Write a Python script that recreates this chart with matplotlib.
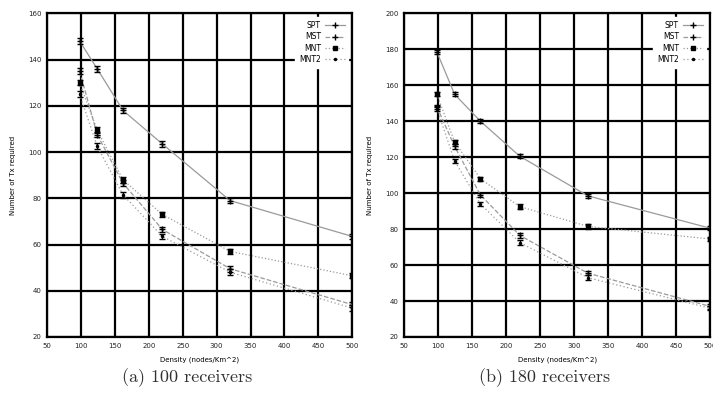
import numpy as np
import matplotlib.pyplot as plt
from matplotlib.lines import Line2D

# densities (nodes/Km^2)
density = [98, 124, 162, 220, 320, 500]

# (a) 100 receivers
spt_a = [148, 136, 118, 103.5, 79, 63.5]
mst_a = [135, 107.5, 86.5, 66.5, 49.5, 34]
mnt_a = [130, 109.5, 88, 73, 57, 46.5]
mnt2_a = [125, 102.5, 81.5, 63.5, 48, 32.5]

# (b) 180 receivers
spt_b = [178.5, 155, 140, 120.5, 98.5, 80.5]
mst_b = [148, 126, 99, 76.5, 55.5, 37]
mnt_b = [155, 128.5, 108, 92.5, 81.5, 74.5]
mnt2_b = [147, 118, 94, 72.5, 53, 36]

series_names = ['SPT', 'MST', 'MNT', 'MNT2']
line_styles = ['-', '--', ':', (0, (1, 2))]
markers = ['+', '+', 's', '.']
marker_sizes = [4, 4, 3, 3]

fig = plt.figure(figsize=(7.13, 4.05), dpi=100)


def draw_panel(ax, data, ylim, yticks, caption):
    for vals, ls, mk, ms in zip(data, line_styles, markers, marker_sizes):
        ax.plot(density, vals, color='#9a9a9a', lw=0.9, ls=ls, zorder=3)
        ax.errorbar(density, vals, yerr=1.2, fmt=mk, color='black', ms=ms,
                    mew=1.0, elinewidth=1.0, capsize=2, zorder=4)
    ax.set_xlim(50, 500)
    ax.set_ylim(*ylim)
    ax.set_xticks(np.arange(50, 501, 50))
    ax.set_yticks(yticks)
    ax.grid(True, color='black', lw=1.6)
    for sp in ax.spines.values():
        sp.set_linewidth(1.6)
    ax.tick_params(labelsize=5, length=0, pad=4, colors='#222222')
    ax.set_xlabel('Density (nodes/Km^2)', fontsize=5, labelpad=6)
    ax.set_ylabel('Number of Tx required', fontsize=5, labelpad=9)

    handles = [Line2D([0], [0], color='#9a9a9a', ls=ls, lw=0.9, marker=mk,
                      mfc='black', mec='black', ms=ms)
               for ls, mk, ms in zip(line_styles, markers, marker_sizes)]
    leg = ax.legend(handles, series_names, loc='upper right', fontsize=5.5,
                    markerfirst=False, frameon=True, fancybox=False,
                    handlelength=2.5, labelspacing=0.3, borderpad=0.5,
                    handletextpad=0.6)
    leg.get_frame().set_edgecolor('white')
    leg.get_frame().set_facecolor('white')
    leg.get_frame().set_alpha(1)
    for t in leg.get_texts():
        t.set_ha('right')
    ax.text(0.46, -0.127, caption, transform=ax.transAxes, ha='center',
            va='center', fontsize=13, family='cmr10', color='#303030')


ax1 = fig.add_axes([0.066, 0.168, 0.428, 0.799])
draw_panel(ax1, [spt_a, mst_a, mnt_a, mnt2_a], (20, 160),
           np.arange(20, 161, 20), '(a) 100 receivers')

ax2 = fig.add_axes([0.567, 0.168, 0.429, 0.799])
draw_panel(ax2, [spt_b, mst_b, mnt_b, mnt2_b], (20, 200),
           np.arange(20, 201, 20), '(b) 180 receivers')

fig.savefig('out.png', dpi=100)
